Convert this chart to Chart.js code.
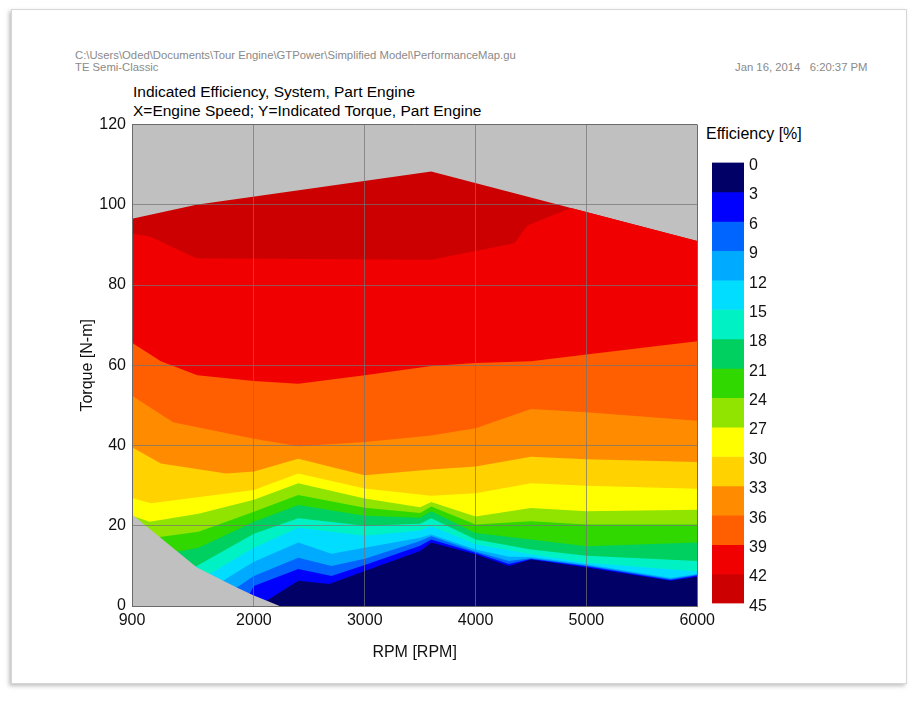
<!DOCTYPE html>
<html>
<head>
<meta charset="utf-8">
<script src="https://cdn.jsdelivr.net/npm/chart.js@4.4.1/dist/chart.umd.min.js"></script>
<style>
  html, body { margin: 0; padding: 0; background: #ffffff; }
  #page { position: relative; width: 918px; height: 711px; overflow: hidden; background: #ffffff; font-family: "Liberation Sans", Arial, sans-serif; }
  #paper { position: absolute; left: 11px; top: 9px; width: 894px; height: 673px; border: 1px solid #d6d6d6; box-shadow: -2px 2px 4px rgba(0,0,0,0.25); background: #fff; }
  .hdr { position: absolute; font-family: "Liberation Sans Narrow", "Liberation Sans", Arial, sans-serif; font-size: 11.3px; color: #8a8a8a; white-space: nowrap; line-height: 13px; }
  .ttl { position: absolute; font-size: 15.5px; color: #000; white-space: nowrap; line-height: 19px; }
  #mainWrap { position: absolute; left: 74px; top: 109px; width: 646px; height: 557px; }
  #barWrap { position: absolute; left: 712px; top: 148px; width: 72px; height: 470px; }
</style>
</head>
<body>
<div id="page">
  <div id="paper"></div>
  <div class="hdr" style="left:75px; top:49px;">C:\Users\Oded\Documents\Tour Engine\GTPower\Simplified Model\PerformanceMap.gu</div>
  <div class="hdr" style="left:75px; top:61px;">TE Semi-Classic</div>
  <div class="hdr" style="left:735px; top:61px;">Jan 16, 2014&nbsp;&nbsp;&nbsp;6:20:37 PM</div>
  <div class="ttl" style="left:133px; top:82px;">Indicated Efficiency, System, Part Engine</div>
  <div class="ttl" style="left:133px; top:101px;">X=Engine Speed; Y=Indicated Torque, Part Engine</div>
  <div class="ttl" style="left:706px; top:124px; font-size:16px;">Efficiency [%]</div>
  <div id="mainWrap"><canvas id="main"></canvas></div>
  <div id="barWrap"><canvas id="bar"></canvas></div>
</div>
<script>
// ---------------- data ----------------
const xTicks = [900, 2000, 3000, 4000, 5000, 6000];
const yTicks = [0, 20, 40, 60, 80, 100, 120];
const levels = [0, 3, 6, 9, 12, 15, 18, 21, 24, 27, 30, 33, 36, 39, 42, 45];
const bandColors = [
  '#000066', '#0000ff', '#0064ff', '#00aaff', '#00ddff',
  '#00f2c4', '#00d060', '#30d800', '#90e400', '#ffff00',
  '#ffd200', '#ff8c00', '#ff5f00', '#f00000', '#cc0000'
];
const noDataColor = '#c0c0c0';

// Upper edge of the mapped region ([rpm, torque])
const topEdge = [[900, 96.5], [1480, 100], [3600, 108.3], [6000, 91]];
// Lower-left unmapped region edge
const lowEdge = [[900, 22.8], [1486, 9.6], [1845, 4.6], [2000, 2.6], [2233, 0]];

// Iso-efficiency lines (upper edge of the band that ends at that level)
const iso42 = [[900, 92.8], [1060, 92.1], [1480, 86.7], [3600, 86.3], [4350, 90.4], [4470, 94.9], [4860, 99.2], [6000, 91]];
const iso39 = [[900, 65.6], [1160, 61], [1490, 57.5], [2000, 56.1], [2400, 55.4], [3000, 57.5], [3600, 59.8], [4000, 60.6], [4500, 61], [5000, 62.7], [6000, 66]];
const iso36 = [[900, 52.4], [1270, 45.8], [2000, 41.7], [2400, 39.8], [3000, 40.9], [3600, 42.5], [4000, 44.3], [4500, 49.1], [5000, 48.3], [6000, 46.2]];
const iso33 = [[900, 39.6], [1160, 35.5], [1750, 33], [2000, 33.5], [2400, 36.7], [3000, 32.6], [3600, 34], [4000, 34.8], [4500, 37.2], [5000, 36.6], [6000, 35.9]];
const iso30 = [[900, 26.9], [1070, 25.6], [2000, 28.9], [2400, 33], [3000, 29.3], [3600, 27.5], [4000, 28.1], [4500, 30.6], [5000, 30], [6000, 29.2]];
const iso27 = [[900, 22.5], [1060, 21], [1500, 23], [2000, 26.5], [2400, 30.6], [3000, 26.8], [3500, 24.6], [3600, 25.9], [4000, 22.3], [4500, 24.4], [5000, 23.6], [6000, 24]];
const iso24 = [[900, 19], [1100, 17], [1500, 18.5], [2000, 23.5], [2400, 27.7], [3000, 24.5], [3500, 23.2], [3600, 24.8], [4000, 20.3], [4500, 21.1], [5000, 20.3], [6000, 20.3]];
const iso21 = [[900, 15], [1200, 13], [1500, 14.5], [2000, 21], [2400, 25.2], [3000, 22.5], [3500, 22], [3600, 23.6], [4000, 18.2], [4500, 16.6], [5000, 14.9], [6000, 15.8]];
const iso18 = [[900, 5], [1480, 9.9], [2000, 18], [2400, 21.9], [3000, 20], [3500, 20.5], [3600, 21.9], [4000, 16.6], [4500, 14.1], [5000, 12.5], [6000, 11.2]];
const iso15 = [[900, 2], [1600, 8], [2000, 14.5], [2400, 19.5], [3000, 17.5], [3500, 18.8], [3600, 19.9], [4000, 15.4], [4500, 12.9], [5000, 10.8], [6000, 8.6]];
const iso12 = [[900, 1], [1720, 6.3], [2000, 11], [2400, 15.8], [2700, 13], [3000, 14.5], [3500, 17], [3600, 17.8], [4000, 14.1], [4300, 12.3], [4500, 12.2], [5000, 10.4], [5760, 7], [6000, 8]];
const iso9  = [[1000, 0], [1845, 4.6], [2000, 7.5], [2400, 12], [2700, 10], [3000, 11.8], [3500, 16.2], [3600, 17.4], [4000, 13.6], [4300, 11.2], [4500, 11.9], [5000, 10.1], [5760, 6.7], [6000, 7.8]];
const iso6  = [[1200, 0], [1964, 3.1], [2000, 5], [2400, 9.2], [2700, 7.5], [3000, 10.2], [3500, 15], [3600, 16.6], [4000, 13.3], [4300, 10.5], [4500, 11.7], [5000, 9.9], [5760, 6.5], [6000, 7.6]];
const iso3  = [[1500, 0], [2114, 1.3], [2400, 6.3], [2680, 5.5], [3000, 8.7], [3500, 13.7], [3600, 15.8], [4000, 12.9], [4300, 10], [4500, 11.6], [5000, 9.6], [5760, 6.3], [6000, 7.3]];

// ---------------- build datasets ----------------
const toXY = arr => arr.map(p => ({ x: p[0], y: p[1] }));
const bandEdges = [iso3, iso6, iso9, iso12, iso15, iso18, iso21, iso24, iso27, iso30, iso33, iso36, iso39, iso42, topEdge];

function area(label, pts, color) {
  return {
    label: label, data: toXY(pts), fill: 'origin',
    backgroundColor: color, borderColor: 'rgba(0,0,0,0)', borderWidth: 0,
    pointRadius: 0, pointHoverRadius: 0, tension: 0
  };
}

const datasets = [];
datasets.push(area('no data (low)', lowEdge, noDataColor));
bandEdges.forEach((edge, i) => {
  datasets.push(area(levels[i] + '-' + levels[i + 1] + ' %', edge, bandColors[i]));
});
datasets.push(area('no data', [[900, 120], [6000, 120]], noDataColor));

const gridColor = ctx => (ctx.tick && (ctx.tick.value === 120 || ctx.tick.value === 6000)) ? '#6a6a6a' : 'rgba(115,115,115,0.7)';
const tickFont = { family: '"Liberation Sans", Arial, sans-serif', size: 16 };
const plainNum = v => String(v);

new Chart(document.getElementById('main'), {
  type: 'line',
  data: { datasets: datasets },
  options: {
    responsive: true, maintainAspectRatio: false, animation: false,
    layout: { padding: { top: 10, right: 20, left: 0, bottom: 0 } },
    plugins: { legend: { display: false }, tooltip: { enabled: false } },
    events: [],
    scales: {
      x: {
        type: 'linear', min: 900, max: 6000,
        afterBuildTicks: s => { s.ticks = xTicks.map(v => ({ value: v })); },
        afterFit: s => { s.height = 60; },
        grid: { color: gridColor, lineWidth: 1, drawTicks: false, z: 1 },
        border: { color: '#6a6a6a', width: 1, z: 2 },
        ticks: { color: '#111', font: tickFont, padding: 5, maxRotation: 0, callback: plainNum },
        title: { display: true, text: 'RPM [RPM]', color: '#111', font: tickFont }
      },
      y: {
        type: 'linear', min: 0, max: 120,
        afterBuildTicks: s => { s.ticks = yTicks.map(v => ({ value: v })); },
        afterFit: s => { s.width = 58; },
        grid: { color: gridColor, lineWidth: 1, drawTicks: false, z: 1 },
        border: { color: '#6a6a6a', width: 1, z: 2 },
        ticks: { color: '#111', font: tickFont, padding: 6, callback: plainNum },
        title: { display: true, text: 'Torque [N-m]', color: '#111', font: tickFont }
      }
    }
  }
});

// ---------------- colour bar ----------------
const barSets = bandColors.map((c, i) => ({
  label: levels[i] + '-' + levels[i + 1],
  data: [levels[i + 1] - levels[i]],
  backgroundColor: c, borderWidth: 0,
  barPercentage: 1, categoryPercentage: 1
}));

new Chart(document.getElementById('bar'), {
  type: 'bar',
  data: { labels: [''], datasets: barSets },
  options: {
    responsive: true, maintainAspectRatio: false, animation: false,
    layout: { padding: { top: 10, bottom: 10, left: 0, right: 0 } },
    plugins: { legend: { display: false }, tooltip: { enabled: false } },
    events: [],
    scales: {
      x: { stacked: true, display: false },
      y: {
        stacked: true, position: 'right', reverse: true, min: 0, max: 45,
        afterBuildTicks: s => { s.ticks = levels.map(v => ({ value: v })); },
        afterFit: s => { s.width = 40; },
        grid: { display: false, drawTicks: false },
        border: { display: false },
        ticks: { color: '#111', font: tickFont, padding: 5, labelOffset: 3, callback: plainNum }
      }
    }
  }
});
</script>
</body>
</html>
